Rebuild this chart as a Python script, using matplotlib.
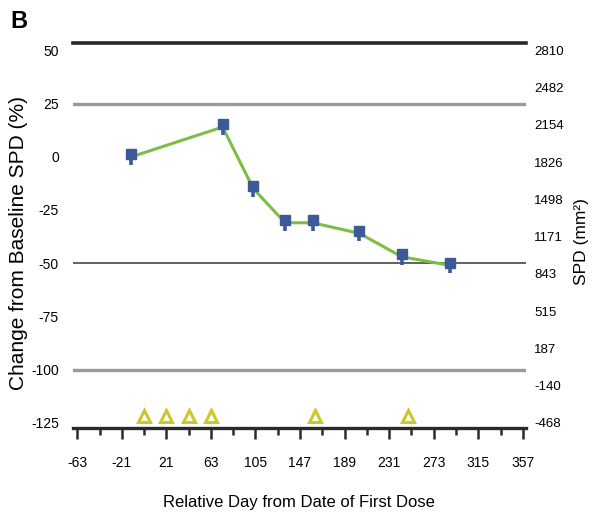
import matplotlib
matplotlib.use("Agg")
import matplotlib.pyplot as plt
from matplotlib import font_manager
from matplotlib.ticker import MultipleLocator

names = {f.name for f in font_manager.fontManager.ttflist}
narrow = "Liberation Sans Narrow" if "Liberation Sans Narrow" in names else "Liberation Sans"
plt.rcParams['font.family'] = ['Liberation Sans', 'DejaVu Sans']

# ---- data ----
days = [-12, 74, 103, 133, 159, 203, 243, 288]
pct_change = [0, 14, -15, -31, -31, -36, -47, -51]
dose_days = [0, 21, 42, 63, 161, 249]
dose_level = -122
left_ticks = [50, 25, 0, -25, -50, -75, -100, -125]
ref_lines = [25, -50, -100]
x_ticks = [-63, -21, 21, 63, 105, 147, 189, 231, 273, 315, 357]
spd_ticks = [2810, 2482, 2154, 1826, 1498, 1171, 843, 515, 187, -140, -468]
baseline_spd = 1873.5
spd_per_pct = 18.73

fig = plt.figure(figsize=(5.92, 5.19), dpi=100)
ax = fig.add_axes([0.1228, 0.1753, 0.7657, 0.7418])
ylo, yhi = -127.5, 53.5
ax.set_ylim(ylo, yhi)
ax.set_xlim(-67.3, 360)

for sp in ['left', 'right']:
    ax.spines[sp].set_visible(False)
ax.spines['top'].set_color('#2a2a2a')
ax.spines['top'].set_linewidth(2.6)
ax.spines['bottom'].set_color('#2a2a2a')
ax.spines['bottom'].set_linewidth(2.4)

ax.axhline(ref_lines[0], color='#9a9a9a', lw=2.4, zorder=1)
ax.axhline(ref_lines[1], color='#555555', lw=1.3, zorder=1)
ax.axhline(ref_lines[2], color='#9a9a9a', lw=2.4, zorder=1)

ax.plot(days, pct_change, color='#7dbd45', lw=2.2, zorder=3)
ax.errorbar(days, pct_change, yerr=[[3.8] * len(days), [0] * len(days)], fmt='none',
            ecolor='#3c5a98', elinewidth=2.6, capsize=0, zorder=4)
ax.plot(days, [p + 1.3 for p in pct_change], linestyle='none', marker='s', markersize=6.5,
        color='#3c5a98', zorder=5)

ax.plot(dose_days, [dose_level] * len(dose_days), linestyle='none', marker='^', markersize=9,
        markerfacecolor='white', markeredgecolor='#c9c92a', markeredgewidth=2.2, zorder=6,
        clip_on=False)

ax.set_xticks(x_ticks)
ax.set_xticklabels([str(t) for t in x_ticks], fontfamily=narrow, fontsize=10)
ax.xaxis.set_minor_locator(MultipleLocator(21))
ax.tick_params(axis='x', which='major', length=8, width=1.8, color='#2a2a2a', pad=12)
ax.tick_params(axis='x', which='minor', length=5, width=1.8, color='#2a2a2a')

ax.set_yticks(left_ticks)
ax.set_yticklabels([str(t) for t in left_ticks], fontfamily=narrow, fontsize=10)
ax.tick_params(axis='y', length=0, pad=10)

ax.set_xlabel('Relative Day from Date of First Dose', fontsize=12, labelpad=18)
ax.set_ylabel('Change from Baseline SPD (%)', fontsize=15)
ax.yaxis.set_label_coords(-0.099, 0.48)

ax2 = ax.twinx()
ax2.set_ylim(baseline_spd + ylo * spd_per_pct, baseline_spd + yhi * spd_per_pct)
for sp in ax2.spines.values():
    sp.set_visible(False)
ax2.set_yticks(spd_ticks)
ax2.set_yticklabels([str(t) for t in spd_ticks], fontfamily=narrow, fontsize=9.5)
ax2.tick_params(axis='y', length=0, pad=6)
ax2.set_ylabel('SPD (mm²)', fontsize=12.5)
ax2.yaxis.set_label_coords(1.107, 0.485)

fig.text(0.018, 0.958, 'B', fontsize=17, fontweight='bold', va='center', ha='left')

fig.savefig('out.png', dpi=100)
